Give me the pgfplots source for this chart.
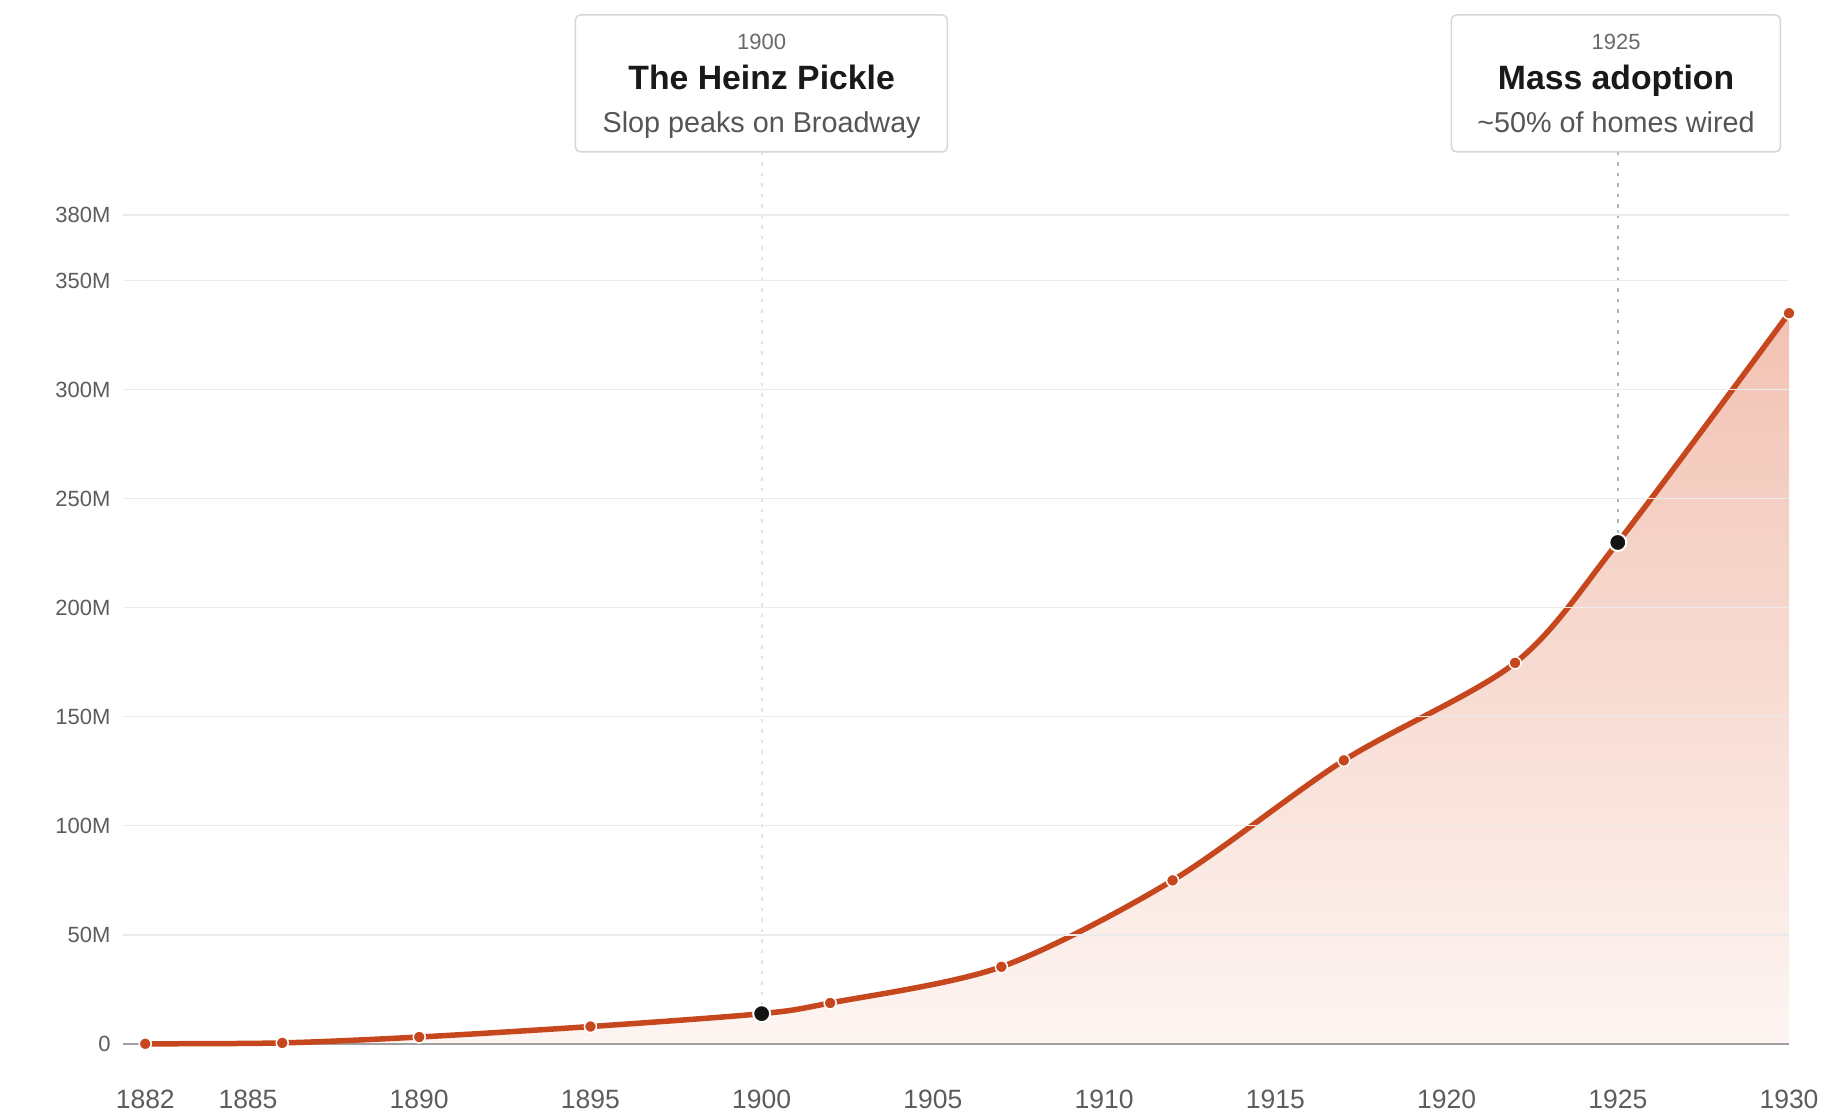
\documentclass[border=0pt]{standalone}
\usepackage{fontspec}
\setmainfont{Liberation Sans}
\usepackage{pgfplots}
\usepackage{pgfplotstable}
\pgfplotsset{compat=1.18}
\definecolor{lineC}{HTML}{C6461E}
\definecolor{fillTop}{HTML}{F2C2B3}
\definecolor{fillBot}{HTML}{FDF5F2}
\definecolor{tickC}{HTML}{5C5C5C}
\definecolor{gridC}{HTML}{EBEBEB}
\definecolor{axisC}{HTML}{A0A0A0}
\definecolor{boxC}{HTML}{D6D6D6}
\definecolor{yearC}{HTML}{6A6A6A}
\definecolor{subC}{HTML}{555555}
\pgfplotstableread{
year val
1882 0.1
1886 0.5
1890 3.2
1895 8.0
1900 13.9
1902 18.8
1907 35.4
1912 75.0
1917 130.0
1922 174.7
1925 229.9
1930 335.0
}\datatab
\begin{document}
\begin{tikzpicture}
\begin{axis}[name=ax, scale only axis, width=666.4pt, height=331.6pt,
  xmin=1881.35, xmax=1930, ymin=0, ymax=380,
  axis line style={draw=none},
  axis on top,
  major tick length=0pt,
  ytick={50,100,150,200,250,300,350,380},
  yticklabels={50M,100M,150M,200M,250M,300M,350M,380M},
  extra y ticks={0}, extra y tick labels={0},
  extra y tick style={grid=none},
  xtick={1882,1885,1890,1895,1900,1905,1910,1915,1920,1925,1930},
  xticklabels={1882,1885,1890,1895,1900,1905,1910,1915,1920,1925,1930},
  ymajorgrids, grid style={gridC, line width=0.5pt},
  /pgf/number format/assume math mode=true,
  tick label style={text=tickC},
  yticklabel style={anchor=east, inner sep=0pt, xshift=-4.8pt, font=\fontsize{8.8}{10}\selectfont},
  xticklabel style={anchor=north, inner sep=0pt, yshift=-18pt, font=\fontsize{10.6}{12}\selectfont},
  clip=false,
]
\draw[gray!22, line width=0.8pt, dash pattern=on 1.4pt off 2.8pt] (axis cs:1900,408.9) -- (axis cs:1900,13.9);
\draw[gray!60, line width=0.9pt, dash pattern=on 1.4pt off 2.8pt] (axis cs:1925,408.9) -- (axis cs:1925,229.9);
\addplot[draw=none, top color=fillTop, bottom color=fillBot, smooth] table[x=year, y=val] {\datatab} \closedcycle;
\draw[axisC, line width=0.6pt] (axis cs:1881.35,0) -- (axis cs:1930,0);
\addplot[lineC, line width=2.2pt, smooth, mark=*, mark size=2.4pt, mark options={fill=lineC, draw=white, line width=0.6pt}] table[x=year, y=val] {\datatab};
\addplot[only marks, mark=*, mark size=3.4pt, mark options={fill=black!92, draw=white, line width=0.8pt}] coordinates {(1900,13.9) (1925,229.9)};
% annotation boxes
\draw[fill=white, draw=boxC, line width=0.6pt, rounded corners=2pt] (axis cs:1894.56,408.9) rectangle (axis cs:1905.42,471.7);
\node[anchor=base, text=yearC, font=\fontsize{8.8}{10}\selectfont] at (axis cs:1900,455.8) {1900};
\node[anchor=base, text=black!90, font=\bfseries\fontsize{13.5}{15}\selectfont] at (axis cs:1900,437.6) {The Heinz Pickle};
\node[anchor=base, text=subC, font=\fontsize{11.5}{13}\selectfont] at (axis cs:1900,418.0) {Slop peaks on Broadway};
\draw[fill=white, draw=boxC, line width=0.6pt, rounded corners=2pt] (axis cs:1920.14,408.9) rectangle (axis cs:1929.75,471.7);
\node[anchor=base, text=yearC, font=\fontsize{8.8}{10}\selectfont] at (axis cs:1924.95,455.8) {1925};
\node[anchor=base, text=black!90, font=\bfseries\fontsize{13.5}{15}\selectfont] at (axis cs:1924.95,437.6) {Mass adoption};
\node[anchor=base, text=subC, font=\fontsize{11.5}{13}\selectfont] at (axis cs:1924.95,418.0) {\textasciitilde 50\% of homes wired};
\end{axis}
\path (ax.south west) ++(-49.2pt,-28.8pt) coordinate (bl);
\path (ax.north east) ++(17.6pt,86pt) coordinate (tr);
\pgfresetboundingbox
\path[use as bounding box] (bl) rectangle (tr);
\end{tikzpicture}
\end{document}
